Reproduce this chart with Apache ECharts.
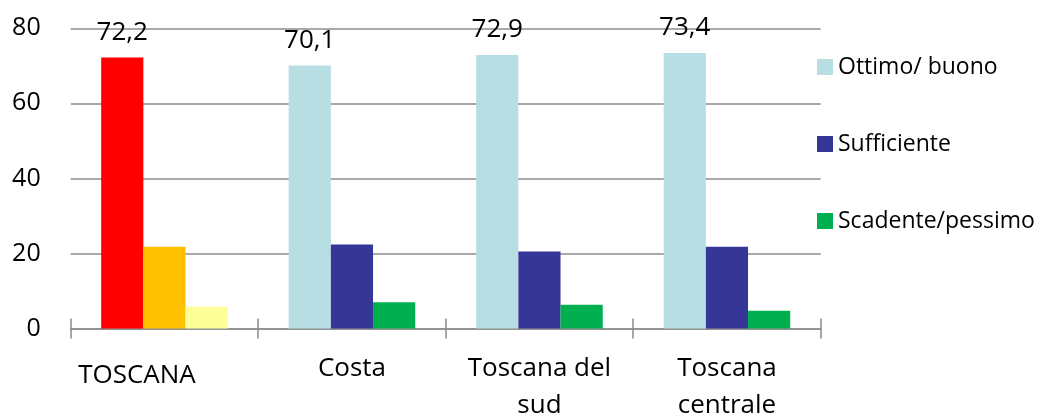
<!DOCTYPE html>
<html>
<head>
<meta charset="utf-8">
<script src="https://cdn.jsdelivr.net/npm/echarts@6/dist/echarts.min.js"></script>
<style>html,body{margin:0;padding:0;background:#fff;}#c{width:1040px;height:418px;}</style>
</head>
<body>
<div id="c"></div>
<script>
const categories = ['TOSCANA', 'Costa', 'Toscana del\nsud', 'Toscana\ncentrale'];
const seriesNames = ['Ottimo/ buono', 'Sufficiente', 'Scadente/pessimo'];
const ottimo = [72.2, 70.1, 72.9, 73.4];
const sufficiente = [21.8, 22.4, 20.5, 21.8];
const scadente = [5.8, 7.0, 6.3, 4.7];
const yTicks = [0, 20, 40, 60, 80];

const seriesColors = ['#B7DFE3', '#363696', '#00B050'];
const toscanaColors = ['#FF0000', '#FFC000', '#FFFF99'];
const FONT = 'Open Sans';
const GREY = '#8C8C8C';

function mk(values, idx) {
  return values.map((v, i) => i === 0 ? { value: v, itemStyle: { color: toscanaColors[idx] } } : v);
}

const chart = echarts.init(document.getElementById('c'), null, { renderer: 'canvas' });
const catData = categories.map((c, i) => i === 0
  ? { value: c, textStyle: { padding: [7, 55, 0, 0] } }
  : c);

chart.setOption({
  animation: false,
  textStyle: { fontFamily: FONT },
  grid: { left: 70.7, right: 219.3, top: 28.3, bottom: 89.5, outerBoundsMode: 'none', containLabel: false },
  legend: {
    orient: 'vertical', left: 812, top: 50,
    itemWidth: 16, itemHeight: 16, itemGap: 53,
    icon: 'rect',
    textStyle: { fontFamily: FONT, fontSize: 23, lineHeight: 24, color: '#000' },
    data: seriesNames
  },
  xAxis: [{
    type: 'category', data: catData,
    axisLine: { lineStyle: { color: GREY, width: 1.5 } },
    axisTick: { show: true, length: 10, lineStyle: { color: GREY, width: 1.5 } },
    axisLabel: { color: '#000', fontSize: 26, margin: 22, lineHeight: 37, fontFamily: FONT, interval: 0 }
  }, {
    type: 'category', data: categories, position: 'bottom',
    axisLine: { show: false },
    axisTick: { show: true, inside: true, length: 10, lineStyle: { color: GREY, width: 1.5 } },
    axisLabel: { show: false }
  }],
  yAxis: {
    type: 'value', min: yTicks[0], max: yTicks[yTicks.length - 1], interval: 20,
    axisLine: { show: false }, axisTick: { show: false },
    splitLine: { lineStyle: { color: GREY, width: 1.5 } },
    axisLabel: { color: '#000', fontSize: 25, margin: 30, fontFamily: FONT }
  },
  series: [
    {
      name: seriesNames[0], type: 'bar', data: mk(ottimo, 0),
      itemStyle: { color: seriesColors[0] },
      barGap: '0%', barCategoryGap: '32.5%',
      label: {
        show: true, position: 'top', distance: 12, color: '#000', fontSize: 26, fontFamily: FONT,
        formatter: p => String(p.value).replace('.', ',')
      }
    },
    { name: seriesNames[1], type: 'bar', data: mk(sufficiente, 1), itemStyle: { color: seriesColors[1] }, barGap: '0%', barCategoryGap: '32.5%' },
    { name: seriesNames[2], type: 'bar', data: mk(scadente, 2), itemStyle: { color: seriesColors[2] }, barGap: '0%', barCategoryGap: '32.5%' }
  ]
});
</script>
</body>
</html>
